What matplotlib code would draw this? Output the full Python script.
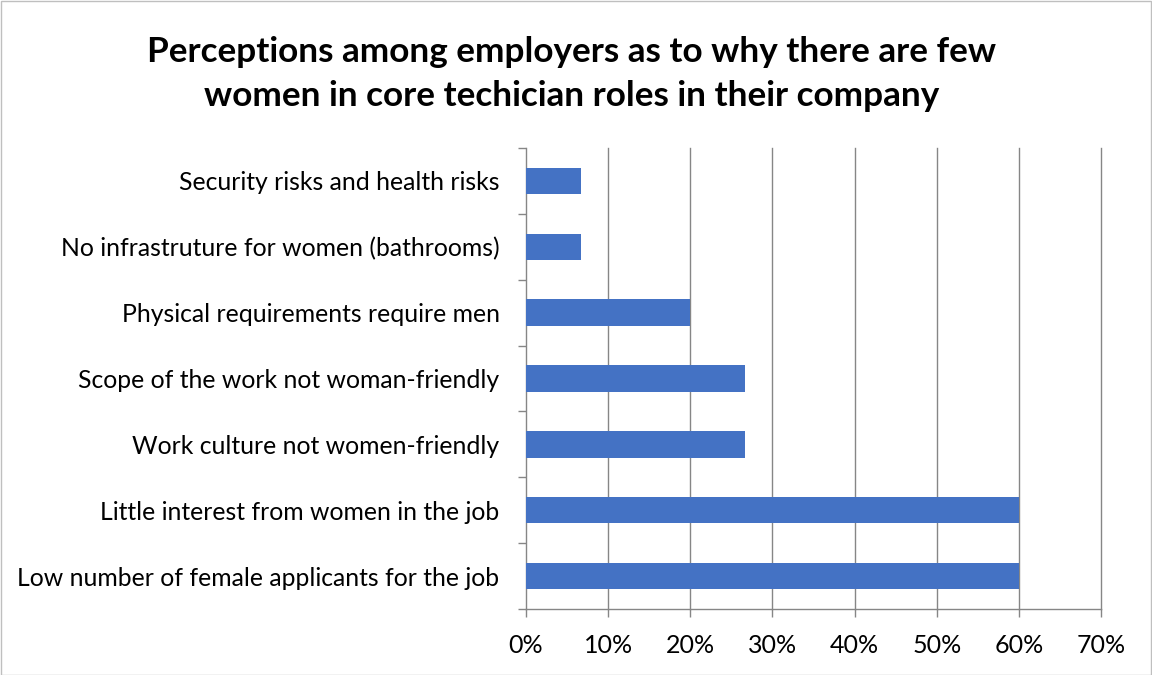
import matplotlib.pyplot as plt
import numpy as np
from matplotlib.patches import Rectangle

categories = [
    "Low number of female applicants for the job",
    "Little interest from women in the job",
    "Work culture not women-friendly",
    "Scope of the work not woman-friendly",
    "Physical requirements require men",
    "No infrastruture for women (bathrooms)",
    "Security risks and health risks",
]
values = [60.0, 60.0, 26.67, 26.67, 20.0, 6.67, 6.67]
xticks = [0, 10, 20, 30, 40, 50, 60, 70]
title = "Perceptions among employers as to why there are few\nwomen in core techician roles in their company"

plt.rcParams['font.family'] = ['Lato', 'DejaVu Sans']

W, H = 1152, 675
fig = plt.figure(figsize=(W / 100, H / 100), dpi=100)
# plot area in pixels: left 526, right 1101, top 148, bottom 609
ax = fig.add_axes([526 / W, 1 - 609 / H, (1101 - 526) / W, (609 - 148) / H])

grid_col = "#868686"
bar_col = "#4472C4"

y = np.arange(len(categories))
ax.barh(y, values, height=0.4, color=bar_col, zorder=3)

ax.set_xlim(0, 70)
ax.set_ylim(-0.5, len(categories) - 0.5)
ax.set_xticks(xticks)
ax.set_xticklabels([f"{t}%" for t in xticks], fontsize=18, color="#000000")
ax.set_yticks(y)
ax.set_yticklabels(categories, fontsize=17.8, color="#000000")
ax.set_yticks(np.arange(-0.5, len(categories)), minor=True)

ax.tick_params(axis='y', which='major', length=0, pad=19)
ax.tick_params(axis='y', which='minor', length=6, width=1, color=grid_col)
ax.tick_params(axis='x', which='major', length=6, width=1, color=grid_col, pad=12)

for x in xticks[1:]:
    ax.axvline(x, color=grid_col, lw=1, zorder=1, clip_on=False)

for s in ['top', 'right']:
    ax.spines[s].set_visible(False)
for s in ['left', 'bottom']:
    ax.spines[s].set_color(grid_col)
    ax.spines[s].set_linewidth(1)

fig.text(572 / W, 1 - 74 / H, title, ha='center', va='center',
         fontsize=25.3, fontweight='bold', linespacing=1.5)

fig.patches.append(Rectangle((0.5 / W, 0.5 / H), 1 - 1.5 / W, 1 - 1.5 / H,
                             transform=fig.transFigure, fill=False,
                             edgecolor="#BFBFBF", lw=1))

fig.savefig("out.png", dpi=100)
